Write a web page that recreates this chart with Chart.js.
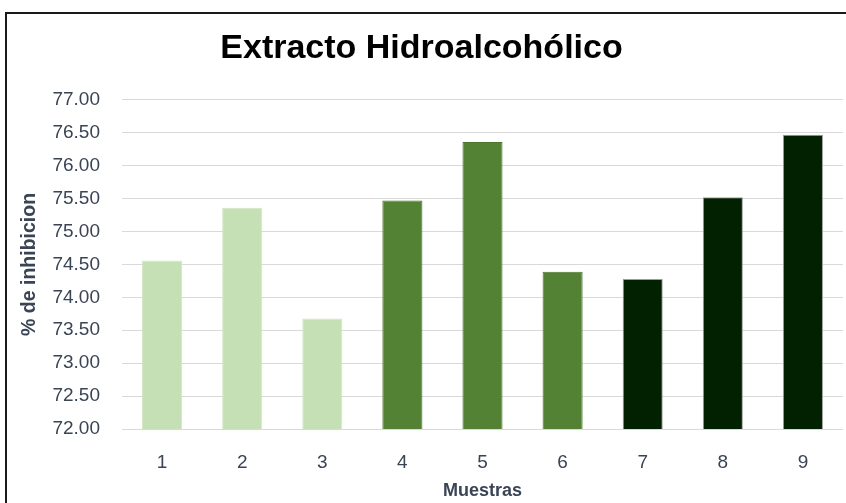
<!DOCTYPE html>
<html>
<head>
<meta charset="utf-8">
<script src="https://cdn.jsdelivr.net/npm/chart.js@4"></script>
<style>
  html, body { margin: 0; padding: 0; background: #fff; }
  #wrap { position: relative; width: 846px; height: 503px; overflow: hidden; }
  #frame { position: absolute; left: 5px; top: 12px; width: 860px; height: 510px; border: 2px solid #1a1a1a; pointer-events: none; }
  canvas { position: absolute; left: 0; top: 0; }
</style>
</head>
<body>
<div id="wrap">
  <canvas id="chart-muestras" width="846" height="503"></canvas>
  <div id="frame"></div>
</div>
<script>
// valores
var muestras = ["1", "2", "3", "4", "5", "6", "7", "8", "9"];
var inhibicion = [74.56, 75.36, 73.68, 75.47, 76.36, 74.39, 74.28, 75.52, 76.47];
var colores = ["#C5E0B4", "#C5E0B4", "#C5E0B4", "#548235", "#548235", "#548235", "#012101", "#012101", "#012101"];
var bordes = ["#d3e8c6", "#d3e8c6", "#d3e8c6", "#4a752d", "#4a752d", "#4a752d", "#9c9c9c", "#9c9c9c", "#9c9c9c"];

var textoEje = "#3a4455";
var fuente = "'Liberation Sans', Arial, sans-serif";

var ctx = document.getElementById("chart-muestras").getContext('2d');
var grafica = new Chart(ctx, {
    type: 'bar',
    data: {
        labels: muestras,
        datasets: [{
            data: inhibicion,
            backgroundColor: colores,
            borderColor: bordes,
            borderWidth: 1,
            barPercentage: 0.5,
            categoryPercentage: 1
        }]
    },
    options: {
        responsive: false,
        animation: false,
        layout: { padding: { top: 28, right: 3, left: 0, bottom: 0 } },
        plugins: {
            legend: { display: false },
            tooltip: { enabled: false },
            title: {
                display: true,
                text: "Extracto Hidroalcohólico",
                color: "#000",
                font: { family: fuente, size: 34, weight: 'bold' },
                padding: { top: 0, bottom: 31 }
            }
        },
        scales: {
            x: {
                afterFit: function (s) { s.height = 74; },
                grid: { display: false },
                border: { display: false },
                ticks: { color: textoEje, font: { family: fuente, size: 19 }, padding: 14 },
                title: {
                    display: true,
                    text: "Muestras",
                    color: textoEje,
                    font: { family: fuente, size: 18, weight: 'bold' },
                    padding: { top: 0, bottom: 1 }
                }
            },
            y: {
                min: 72,
                max: 77,
                afterFit: function (s) { s.width = 122; },
                grid: { color: "#d9d9d9", lineWidth: 1, drawTicks: false },
                border: { display: false },
                ticks: {
                    stepSize: 0.5,
                    color: textoEje,
                    font: { family: fuente, size: 19 },
                    padding: 22,
                    callback: function (v) { return Number(v).toFixed(2); }
                },
                title: {
                    display: true,
                    text: "% de inhibicion",
                    color: textoEje,
                    font: { family: fuente, size: 19.5, weight: 'bold' },
                    padding: { top: 18, bottom: 0 }
                }
            }
        }
    }
});
</script>
</body>
</html>
